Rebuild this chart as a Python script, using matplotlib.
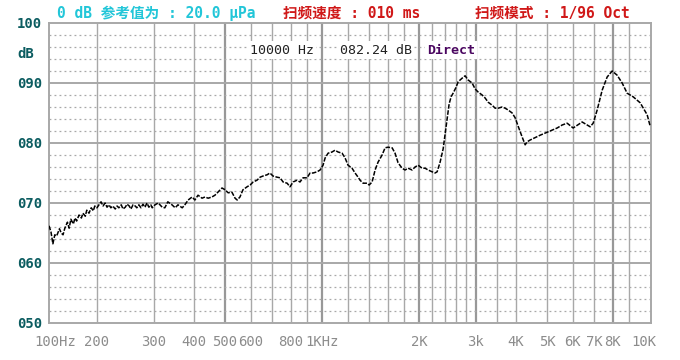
'''
Frequency response sweep, 1/96 octave
redrawn with matplotlib
'''

import matplotlib
matplotlib.use("Agg")
import matplotlib.pyplot as plt

#################################

# measured curve, frequency in Hz and level in dB
freq = [142, 144, 146, 148, 150, 153, 155, 157, 159, 162, 164, 166, 169, 171, 173,
        176, 179, 181, 184, 186, 189, 192, 195, 197, 200, 203, 206, 209, 212, 215,
        218, 221, 224, 228, 231, 234, 238, 241, 245, 248, 252, 255, 259, 263, 266,
        270, 274, 278, 282, 286, 290, 294,
        297, 303, 310, 319, 325, 332, 342, 350, 357, 368, 375, 384, 395, 403, 412,
        424, 433, 443, 455, 465, 475, 489, 500, 511, 525, 537, 545, 556, 568, 585,
        598, 611, 628,
        642, 656, 675, 689, 704, 725, 741, 757, 779, 795, 813, 836, 854, 873, 898,
        918, 938, 965, 986, 1007, 1022, 1044, 1074, 1097, 1121, 1154, 1179, 1204,
        1239, 1266, 1294,
        1312, 1341, 1380, 1400, 1430, 1461, 1492, 1536, 1569, 1603, 1650, 1685,
        1722, 1772, 1810, 1850, 1903, 1944, 1987, 2044, 2089, 2134, 2196, 2243,
        2276, 2325, 2376, 2410, 2445, 2480,
        2515, 2552, 2607, 2645, 2721, 2780, 2841, 2923, 2987, 3051, 3140, 3208,
        3278, 3373, 3446, 3521, 3623, 3702, 3782, 3892, 3976, 4062, 4180, 4271,
        4333, 4427, 4754, 5106, 5368, 5564, 5766, 6019, 6419, 6797, 6944, 7146,
        7406, 7675, 7954, 8243, 8543, 8854, 9242, 9718, 10217, 10438]
level = [66.2, 65.2, 63.2, 64.7, 64.5, 65.7, 65.0, 64.7, 65.8, 66.8, 65.8, 67.3, 66.5, 67.5, 67.0,
         68.0, 67.5, 68.3, 67.8, 68.8, 68.3, 69.2, 68.7, 69.5, 69.2, 69.7, 70.2, 69.5, 70.0, 69.3,
         69.7, 69.2, 69.5, 69.0, 69.5, 69.2, 69.7, 69.0, 69.3, 69.8, 69.5, 69.0, 69.7, 69.5, 69.2,
         69.7, 69.2, 69.8, 69.3, 70.0, 69.3, 69.7,
         69.2, 69.7, 70.0, 69.3, 69.2, 70.2, 69.7, 69.2, 69.7, 69.2, 69.7, 70.5, 71.0, 70.5, 71.3,
         70.8, 71.0, 70.8, 71.0, 71.3, 71.8, 72.5, 72.2, 71.7, 71.8, 70.8, 70.5, 71.0, 72.2, 72.7,
         73.0, 73.5, 73.8,
         74.3, 74.5, 74.7, 75.0, 74.5, 74.3, 74.2, 73.5, 73.3, 72.7, 73.5, 73.8, 73.5, 74.2, 74.2,
         75.0, 75.0, 75.2, 75.5, 76.3, 77.5, 78.3, 78.5, 78.8, 78.5, 78.3, 77.5, 76.3,
         75.8, 75.0, 74.3,
         73.8, 73.3, 73.3, 73.0, 73.5, 75.5, 76.8, 78.0, 79.2, 79.3, 79.2, 78.3,
         76.7, 75.8, 75.5, 75.8, 75.5, 76.0, 76.3, 75.8, 75.8, 75.5, 75.2, 75.0,
         75.2, 76.8, 79.0, 81.5, 84.0, 86.5,
         87.7, 88.3, 89.3, 90.2, 90.8, 91.2, 90.5, 90.0, 89.0, 88.5, 88.0, 87.5,
         86.8, 86.3, 85.8, 85.8, 86.0, 85.8, 85.5, 85.0, 84.2, 82.8, 81.0, 79.7,
         80.2, 80.5, 81.3, 82.0, 82.5, 83.0, 83.3, 82.5, 83.5, 82.7, 83.3, 85.5,
         88.8, 91.0, 92.0, 91.3, 90.0, 88.3, 87.7, 86.7, 84.7, 82.8]

# axis labels
xtick_freq = [148, 200, 300, 400, 500, 600, 800, 1000, 2000, 3000, 4000, 5000, 6000, 7000, 8000, 10000]
xtick_text = ['100Hz', '200', '300', '400', '500', '600', '800', '1KHz', '2K', '3k', '4K', '5K', '6K', '7K', '8K', '10K']
ytick_db = [50, 60, 70, 80, 90, 95, 100]
ytick_text = ['050', '060', '070', '080', '090', 'dB', '100']

# grid lines
vgrid = [200, 300, 400, 500, 600, 700, 800, 900, 1000, 1200, 1400, 1600, 1800, 2000,
         2200, 2400, 2600, 2800, 3000, 3500, 4000, 5000, 6000, 7000, 8000, 9000]
vgrid_thick = [500, 1000, 2000, 3000, 8000]

mono = ['DejaVu Sans Mono', 'Noto Sans CJK SC']
gridcol = '#a8a8a8'

if __name__ == "__main__":
  '''Main block'''

  fig = plt.figure(figsize=(6.8, 3.6), dpi=100)
  ax = fig.add_axes([49/680, 37/360, 602/680, 300/360])

  ax.set_xscale('log')
  ax.set_xlim(142, 10500)
  ax.set_ylim(50, 100)

  # background grid
  for f in vgrid:
    if f in vgrid_thick:
      ax.axvline(f, color='#989898', lw=1.6, zorder=1)
    else:
      ax.axvline(f, color=gridcol, lw=1.0, zorder=1)
  for d in range(52, 100, 2):
    if d % 10 == 0:
      ax.axhline(d, color=gridcol, lw=1.4, zorder=1)
    else:
      ax.axhline(d, color=gridcol, lw=0.9, linestyle=(0, (1.5, 2.5)), zorder=1)

  for s in ax.spines.values():
    s.set_color(gridcol)
    s.set_linewidth(1.4)

  # the measured curve
  ax.plot(freq, level, color='black', lw=1.1, linestyle=(0, (3, 1)), zorder=3)

  # ticks
  ax.minorticks_off()
  ax.set_xticks(xtick_freq)
  ax.set_xticklabels(xtick_text, family=mono, fontsize=10, color='#8c8c8c')
  ax.set_yticks(ytick_db)
  ax.set_yticklabels(ytick_text, family=mono, fontsize=10, fontweight='bold',
                     color='#0b5c60', ha='left')
  ax.tick_params(axis='x', length=0, pad=9)
  ax.tick_params(axis='y', length=0, pad=23)

  # header
  fig.text(57/680, 1-13/360, '0 dB 参考值为 : 20.0 μPa', family=mono, fontsize=10.5,
           fontweight='bold', color='#22c6d8', va='center', ha='left')
  fig.text(283/680, 1-13/360, '扫频速度 : 010 ms', family=mono, fontsize=10.5,
           fontweight='bold', color='#d01818', va='center', ha='left')
  fig.text(475/680, 1-13/360, '扫频模式 : 1/96 Oct', family=mono, fontsize=10.5,
           fontweight='bold', color='#d01818', va='center', ha='left')

  # cursor readout
  box = dict(facecolor='white', edgecolor='none', pad=1.5)
  fig.text(250/680, 1-50/360, '10000 Hz', family=mono, fontsize=9.5, color='#222222',
           va='center', ha='left', bbox=box, zorder=5)
  fig.text(340/680, 1-50/360, '082.24 dB', family=mono, fontsize=9.5, color='#222222',
           va='center', ha='left', bbox=box, zorder=5)
  fig.text(427/680, 1-50/360, 'Direct', family=mono, fontsize=9.5, fontweight='bold',
           color='#4a0660', va='center', ha='left', bbox=box, zorder=5)

  plt.savefig('out.png', dpi=100)
